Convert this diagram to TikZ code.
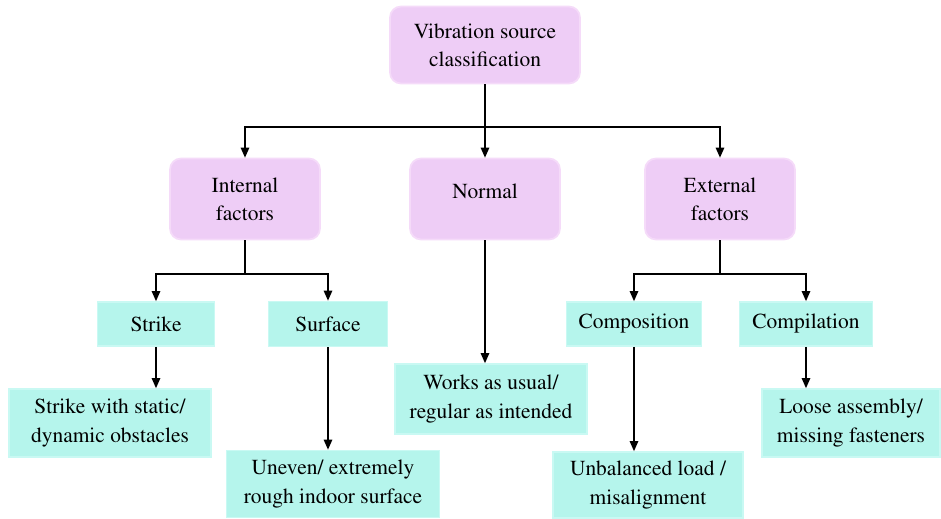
\documentclass[tikz,border=0pt]{standalone}
\usepackage[T1]{fontenc}
\usepackage{times}
\usetikzlibrary{arrows.meta}

\definecolor{pinkfill}{HTML}{EECDF6}
\definecolor{pinkedge}{HTML}{F5DBF9}
\definecolor{cyanfill}{HTML}{B5F5EC}
\definecolor{cyanedge}{HTML}{C9F9F3}

\tikzset{
    group/.style={rectangle, rounded corners=0.22cm, fill=pinkfill, draw=pinkedge,
        line width=1pt, align=center, inner sep=0pt},
    leaf/.style={rectangle, fill=cyanfill, draw=cyanedge, line width=1pt,
        align=center, inner sep=0pt},
    link/.style={line width=0.7pt, black},
    tip/.style={-{Triangle[length=2mm, width=1.7mm]}},
}

\begin{document}
\begin{tikzpicture}[x=0.02cm, y=-0.02cm, font=\rmfamily\fontsize{12.2}{16}\selectfont]
        \useasboundingbox (0,0) rectangle (941,518);
        % top and middle level
        \node[group, minimum width=3.8cm, minimum height=1.54cm](root) at (485,45)  {Vibration source\\classification};
        \node[group, minimum width=3cm,   minimum height=1.62cm](internal) at (245,199) {Internal\\factors};
        \node[group, minimum width=3cm,   minimum height=1.62cm, text depth=0.32cm](normal) at (485,199) {Normal};
        \node[group, minimum width=3cm,   minimum height=1.62cm](external) at (720,199) {External\\factors};
        % second level
        \node[leaf, minimum width=2.34cm, minimum height=0.88cm](strike)  at (156,324) {Strike};
        \node[leaf, minimum width=2.38cm, minimum height=0.9cm](surface)  at (328,324) {Surface};
        \node[leaf, minimum width=2.7cm,  minimum height=0.88cm](composition) at (634,324) {Composition};
        \node[leaf, minimum width=2.66cm, minimum height=0.88cm](compilation) at (806,324) {Compilation};
        % bottom level
        \node[leaf, minimum width=4.04cm, minimum height=1.36cm](obstacles)  at (110,423) {Strike with static/\\dynamic obstacles};
        \node[leaf, minimum width=4.26cm, minimum height=1.34cm](rough)      at (333,484) {Uneven/ extremely\\rough indoor surface};
        \node[leaf, minimum width=3.84cm, minimum height=1.4cm](usual)       at (491,399) {Works as usual/\\regular as intended};
        \node[leaf, minimum width=3.8cm,  minimum height=1.32cm](unbalanced) at (648,485) {Unbalanced load /\\misalignment};
        \node[leaf, minimum width=3.56cm, minimum height=1.36cm](loose)      at (851,423) {Loose assembly/\\missing fasteners};
        % branch points
        \coordinate (b0) at (485,127);
        \coordinate (b1) at (245,274);
        \coordinate (b2) at (720,274);
        \draw[link] (root) -- (b0);
        \draw[link, tip] (b0) -| (internal);
        \draw[link, tip] (b0) -| (external);
        \draw[link] (internal) -- (b1);
        \draw[link, tip] (b1) -| (strike);
        \draw[link, tip] (b1) -| (surface);
        \draw[link] (external) -- (b2);
        \draw[link, tip] (b2) -| (composition);
        \draw[link, tip] (b2) -| (compilation);
        \path[link]
            (b0) edge [tip] (normal)
            (strike) edge [tip] (strike |- obstacles.north)
            (surface) edge [tip] (surface |- rough.north)
            (normal) edge [tip] (normal |- usual.north)
            (composition) edge [tip] (composition |- unbalanced.north)
            (compilation) edge [tip] (compilation |- loose.north)
            ;
    \end{tikzpicture}
\end{document}
